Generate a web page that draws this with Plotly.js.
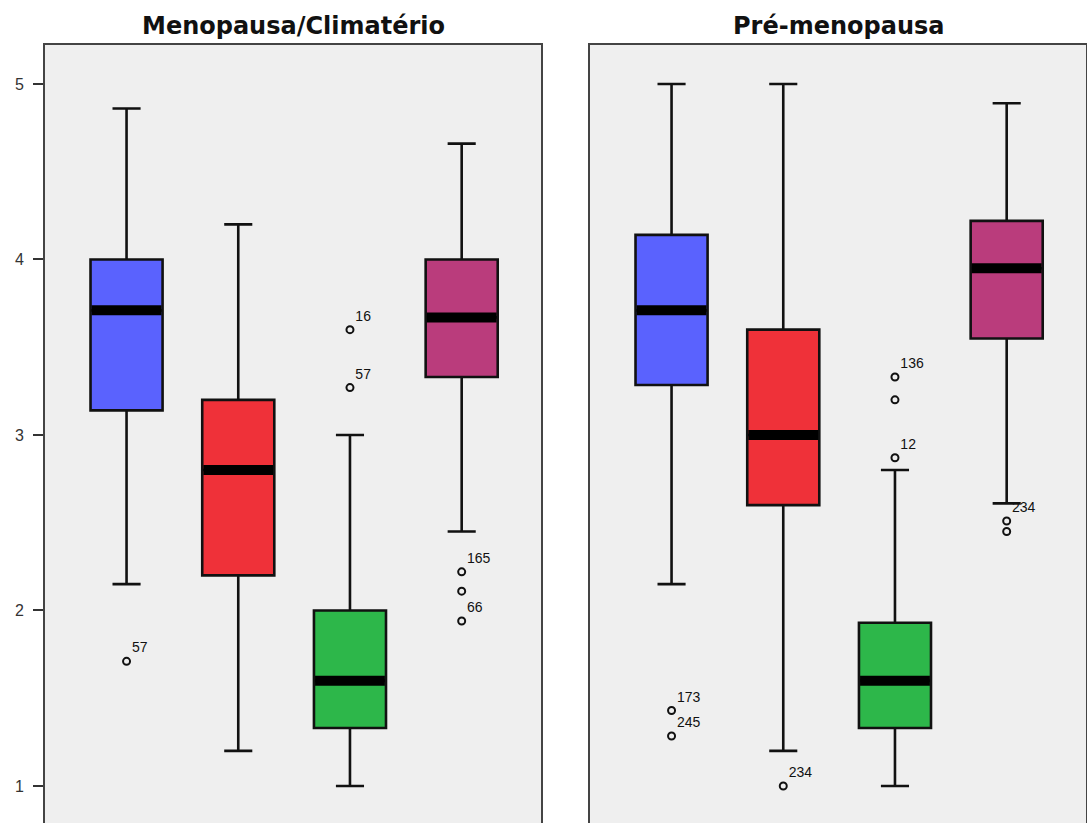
<!DOCTYPE html>
<html>
<head>
<meta charset="utf-8">
<script src="https://cdn.plot.ly/plotly-3.0.1.min.js"></script>
<style>html,body{margin:0;padding:0;background:#fff;}#chart{width:1087px;height:823px;}</style>
</head>
<body>
<div id="chart"></div>
<script>
// ---- Data ----
const panelTitles = ['Menopausa/Climatério', 'Pré-menopausa'];
const groups = [0, 1, 2, 3];

// Menopausa/Climatério
const menoLower  = [2.15, 1.20, 1.00, 2.45];
const menoQ1     = [3.14, 2.20, 1.33, 3.33];
const menoMedian = [3.71, 2.80, 1.60, 3.67];
const menoQ3     = [4.00, 3.20, 2.00, 4.00];
const menoUpper  = [4.86, 4.20, 3.00, 4.66];
const menoOutX    = [0, 2, 2, 3, 3, 3];
const menoOutY    = [1.71, 3.60, 3.27, 2.22, 2.11, 1.94];
const menoOutText = ['57', '16', '57', '165', '', '66'];

// Pré-menopausa
const preLower  = [2.15, 1.20, 1.00, 2.61];
const preQ1     = [3.285, 2.60, 1.33, 3.55];
const preMedian = [3.71, 3.00, 1.60, 3.95];
const preQ3     = [4.14, 3.60, 1.93, 4.22];
const preUpper  = [5.00, 5.00, 2.80, 4.89];
const preOutX    = [0, 0, 1, 2, 2, 2, 3, 3];
const preOutY    = [1.43, 1.285, 1.00, 3.33, 3.20, 2.87, 2.51, 2.45];
const preOutText = ['173', '245', '234', '136', '', '12', '234', ''];

const yTicks = [1, 2, 3, 4, 5];

// ---- Styles ----
const boxColors = ['#5a62fe', '#ef3139', '#2db74a', '#ba3c7c'];
const BOXW = 0.645;

const traces = [];
function addPanel(xa, ya, lower, q1, med, q3, upper, ox, oy, otext) {
  groups.forEach((g, i) => {
    traces.push({
      type: 'box', xaxis: xa, yaxis: ya,
      x: [g], lowerfence: [lower[i]], q1: [q1[i]], median: [med[i]], q3: [q3[i]], upperfence: [upper[i]],
      width: BOXW, whiskerwidth: 0.39,
      fillcolor: boxColors[i], line: {color: '#111', width: 2.6},
      boxpoints: false, showlegend: false, hoverinfo: 'skip'
    });
    traces.push({
      type: 'scatter', mode: 'lines', xaxis: xa, yaxis: ya,
      x: [g - BOXW / 2 + 0.01, g + BOXW / 2 - 0.01], y: [med[i], med[i]],
      line: {color: '#000', width: 10}, showlegend: false, hoverinfo: 'skip'
    });
  });
  traces.push({
    type: 'scatter', mode: 'markers+text', xaxis: xa, yaxis: ya,
    x: ox, y: oy, text: otext, textposition: 'top right',
    textfont: {family: 'Liberation Sans, Arial, sans-serif', size: 14, color: '#111'},
    marker: {symbol: 'circle-open', size: 7, color: '#111', line: {width: 2, color: '#111'}},
    showlegend: false, hoverinfo: 'skip', cliponaxis: false
  });
}
addPanel('x', 'y', menoLower, menoQ1, menoMedian, menoQ3, menoUpper, menoOutX, menoOutY, menoOutText);
addPanel('x2', 'y2', preLower, preQ1, preMedian, preQ3, preUpper, preOutX, preOutY, preOutText);

const W = 1087, H = 823;
const yDomTop = 1 - 45 / H;
const yRange = [0.789, 5.222];
const xRange = [-0.73, 3.71];
const frame = {showline: true, linecolor: '#444', linewidth: 2};

const layout = {
  width: W, height: H,
  margin: {l: 0, r: 0, t: 0, b: 0},
  paper_bgcolor: '#ffffff',
  plot_bgcolor: '#efefef',
  showlegend: false,
  font: {family: 'DejaVu Sans, sans-serif', color: '#222'},
  xaxis: Object.assign({domain: [45 / W, 541 / W], range: xRange, side: 'top', showticklabels: false, ticks: '', showgrid: false, zeroline: false, fixedrange: true, anchor: 'y'}, frame),
  xaxis2: Object.assign({domain: [590 / W, 1086 / W], range: xRange, side: 'top', showticklabels: false, ticks: '', showgrid: false, zeroline: false, fixedrange: true, anchor: 'y2'}, frame),
  yaxis: Object.assign({domain: [0, yDomTop], range: yRange, tickvals: yTicks, ticktext: yTicks.map(String), ticks: 'outside', ticklen: 10, tickwidth: 2, tickcolor: '#333', ticklabelstandoff: 6, mirror: true, showgrid: false, zeroline: false, automargin: false, tickfont: {family: 'Liberation Sans, Arial, sans-serif', size: 16, color: '#333'}, anchor: 'x'}, frame),
  yaxis2: Object.assign({domain: [0, yDomTop], range: yRange, showticklabels: false, ticks: '', mirror: true, showgrid: false, zeroline: false, anchor: 'x2'}, frame),
  annotations: [
    {text: '<b>' + panelTitles[0] + '</b>', xref: 'paper', yref: 'paper', x: 293 / W, y: 1 - 26 / H, xanchor: 'center', yanchor: 'middle', showarrow: false, font: {family: 'DejaVu Sans, sans-serif', size: 24, color: '#111'}},
    {text: '<b>' + panelTitles[1] + '</b>', xref: 'paper', yref: 'paper', x: 838 / W, y: 1 - 26 / H, xanchor: 'center', yanchor: 'middle', showarrow: false, font: {family: 'DejaVu Sans, sans-serif', size: 24, color: '#111'}}
  ]
};

Plotly.newPlot('chart', traces, layout, {displayModeBar: false, staticPlot: true});
</script>
</body>
</html>
